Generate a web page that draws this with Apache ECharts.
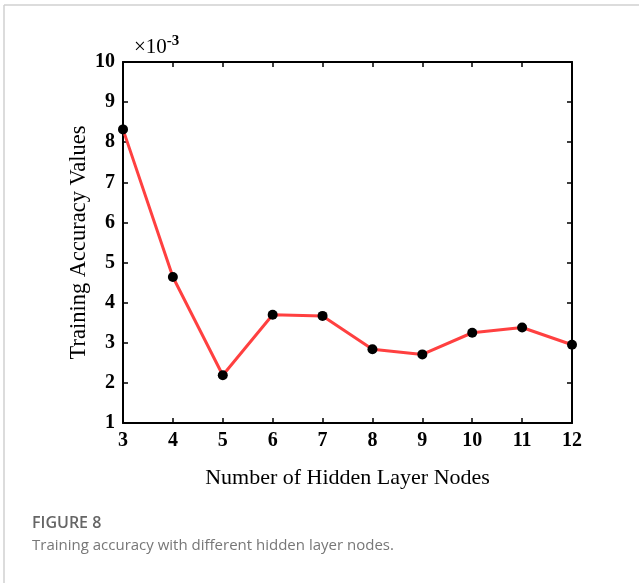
<!DOCTYPE html>
<html>
<head>
<meta charset="utf-8">
<script src="https://cdn.jsdelivr.net/npm/echarts@6/dist/echarts.min.js"></script>
<style>
html,body{margin:0;padding:0;background:#fff;}
#c{width:639px;height:583px;}
</style>
</head>
<body>
<div id="c"></div>
<script>
const nodes = [3, 4, 5, 6, 7, 8, 9, 10, 11, 12];
const accuracy = [8.32, 4.64, 2.19, 3.70, 3.67, 2.84, 2.71, 3.25, 3.38, 2.95]; // x 10^-3
const xTicks = [3, 4, 5, 6, 7, 8, 9, 10, 11, 12];
const yTicks = [1, 2, 3, 4, 5, 6, 7, 8, 9, 10];

const chart = echarts.init(document.getElementById('c'), null, {renderer: 'canvas'});
const serif = '"Liberation Serif", "Times New Roman", serif';
const sans = '"Open Sans", "Noto Sans", sans-serif';
const axisLineStyle = {color: '#000', width: 2};
const tickStyle = {show: true, inside: true, length: 5, lineStyle: {color: '#000', width: 1.5}};

chart.setOption({
  animation: false,
  backgroundColor: '#fff',
  grid: {left: 123, top: 62, right: 67, bottom: 160, containLabel: false},
  graphic: [
    {type: 'line', shape: {x1: 4, y1: 5, x2: 639, y2: 5}, style: {stroke: '#d0d0d0', lineWidth: 1.5}},
    {type: 'line', shape: {x1: 4, y1: 5, x2: 4, y2: 583}, style: {stroke: '#d0d0d0', lineWidth: 1.5}},
    {type: 'text', left: 134, top: 34, style: {
      text: '{a|×10}{b|-3}',
      rich: {
        a: {fontFamily: serif, fontSize: 21, fill: '#000'},
        b: {fontFamily: serif, fontSize: 15, fontWeight: 'bold', fill: '#000', verticalAlign: 'top', padding: [0,0,12,0]}
      }
    }},
    {type: 'text', left: 32, top: 515, style: {text: 'FIGURE 8', fontFamily: sans, fontSize: 16, fontWeight: 600, fill: '#666666'}},
    {type: 'text', left: 32, top: 538, style: {text: 'Training accuracy with different hidden layer nodes.', fontFamily: sans, fontSize: 15, fill: '#777777'}}
  ],
  xAxis: [
    {
      type: 'value', min: 3, max: 12, interval: 1, position: 'bottom',
      name: 'Number of Hidden Layer Nodes', nameLocation: 'middle', nameGap: 44, nameMoveOverlap: false,
      nameTextStyle: {fontFamily: serif, fontSize: 22, color: '#000'},
      axisLine: {show: true, onZero: false, lineStyle: axisLineStyle},
      axisTick: tickStyle,
      splitLine: {show: false},
      axisLabel: {show: true, margin: 8, fontFamily: serif, fontSize: 20, fontWeight: 'bold', color: '#000',
        formatter: v => xTicks.includes(v) ? String(v) : ''}
    },
    {
      type: 'value', min: 3, max: 12, interval: 1, position: 'top',
      axisLine: {show: true, onZero: false, lineStyle: axisLineStyle},
      axisTick: tickStyle, axisLabel: {show: false}, splitLine: {show: false}
    }
  ],
  yAxis: [
    {
      type: 'value', min: 1, max: 10, interval: 1, position: 'left',
      name: 'Training Accuracy Values', nameLocation: 'middle', nameGap: 32, nameMoveOverlap: false,
      nameTextStyle: {fontFamily: serif, fontSize: 22.5, color: '#000'},
      axisLine: {show: true, onZero: false, lineStyle: axisLineStyle},
      axisTick: tickStyle,
      splitLine: {show: false},
      axisLabel: {show: true, margin: 8, fontFamily: serif, fontSize: 20, fontWeight: 'bold', color: '#000',
        formatter: v => yTicks.includes(v) ? String(v) : ''}
    },
    {
      type: 'value', min: 1, max: 10, interval: 1, position: 'right',
      axisLine: {show: true, onZero: false, lineStyle: axisLineStyle},
      axisTick: tickStyle, axisLabel: {show: false}, splitLine: {show: false}
    }
  ],
  series: [{
    type: 'line',
    xAxisIndex: 0, yAxisIndex: 0,
    data: nodes.map((n, i) => [n, accuracy[i]]),
    lineStyle: {color: '#ff4040', width: 3},
    symbol: 'circle', symbolSize: 10,
    itemStyle: {color: '#000', borderWidth: 0},
    clip: false
  }]
});
</script>
</body>
</html>
